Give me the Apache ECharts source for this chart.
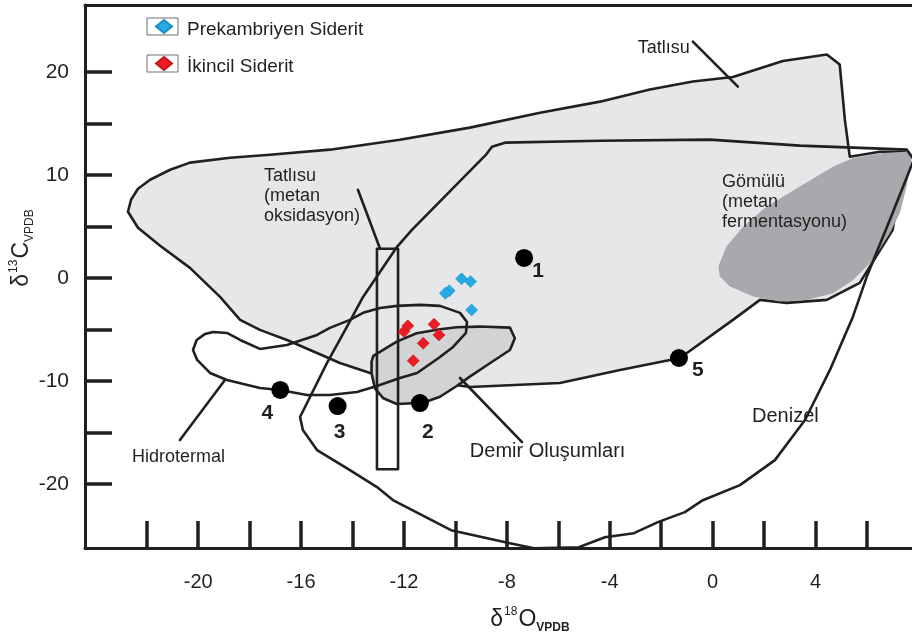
<!DOCTYPE html>
<html>
<head>
<meta charset="utf-8">
<script src="https://cdn.jsdelivr.net/npm/echarts@6/dist/echarts.min.js"></script>
<style>
  html, body { margin: 0; padding: 0; background: #fff; }
  #chart { width: 912px; height: 637px; }
</style>
</head>
<body>
<div id="chart"></div>
<script>
// Axis ticks and labels (δ18O on x, δ13C on y, both ‰ VPDB)
const xTicks = [-22, -20, -18, -16, -14, -12, -10, -8, -6, -4, -2, 0, 2, 4, 6];
const xLabels = [-20, -16, -12, -8, -4, 0, 4];
const yTicks = [-20, -15, -10, -5, 0, 5, 10, 15, 20];
const yLabels = [-20, -10, 0, 10, 20];

// Field outlines as [δ18O, δ13C] vertices
const fieldTatlisu = [
  [-22.73, 6.43], [-22.61, 7.60], [-22.34, 8.67], [-21.87, 9.54], [-21.09, 10.51],
  [-20.32, 11.20], [-18.76, 11.68], [-17.21, 11.97], [-14.88, 12.46], [-12.16, 13.43],
  [-9.44, 14.60], [-6.71, 16.05], [-4.38, 17.12], [-2.44, 18.29], [-0.77, 19.07],
  [0.79, 19.52], [2.73, 21.06], [4.44, 21.69], [4.94, 20.72], [5.02, 18.58],
  [5.14, 15.37], [5.33, 11.78], [6.50, 12.26], [7.47, 12.26], [7.00, 4.68],
  [5.72, -0.47], [4.44, -2.12], [2.88, -2.41], [1.84, -2.12], [0.79, -4.06],
  [-1.27, -7.76], [-3.60, -8.92], [-5.94, -10.19], [-9.44, -10.57], [-13.32, -9.21],
  [-14.49, -8.24], [-15.38, -7.27], [-16.55, -6.01], [-17.60, -5.03], [-18.37, -4.06],
  [-19.15, -1.83], [-20.32, 0.99], [-21.48, 3.13], [-22.34, 4.88]
];
const fieldDenizel = [
  [-8.81, 11.97], [-8.58, 12.75], [-8.07, 13.14], [-4.38, 13.33], [-0.11, 13.43],
  [3.39, 12.85], [7.55, 12.46], [7.82, 11.49], [7.00, 6.34], [5.99, 0.12],
  [5.45, -3.77], [4.56, -8.92], [3.59, -13.78], [2.42, -17.67], [1.06, -20.10],
  [-0.38, -21.56], [-1.08, -22.72], [-2.13, -23.69], [-3.06, -24.76], [-4.19, -25.15],
  [-5.20, -26.12], [-6.95, -26.22], [-7.88, -25.73], [-10.17, -24.47], [-12.43, -21.55],
  [-13.05, -20.29], [-14.10, -18.64], [-15.38, -16.70], [-15.93, -14.75], [-16.04, -13.49],
  [-14.99, -8.24], [-14.22, -4.74], [-13.59, -1.83], [-12.27, 3.03], [-11.69, 4.68]
];
const fieldHidrotermal = [
  [-20.06, -6.01], [-19.73, -5.42], [-19.42, -5.23], [-18.88, -5.33], [-18.37, -6.01],
  [-17.60, -6.88], [-16.55, -6.49], [-15.38, -5.52], [-14.88, -4.84], [-14.10, -4.06],
  [-13.59, -3.38], [-12.93, -2.90], [-12.27, -2.70], [-11.38, -2.60], [-10.60, -2.70],
  [-9.82, -3.38], [-9.55, -4.26], [-9.59, -5.33], [-10.09, -6.69], [-10.60, -7.66],
  [-11.49, -9.21], [-12.16, -9.70], [-13.05, -10.48], [-13.83, -11.06], [-14.88, -11.35],
  [-15.77, -11.35], [-16.82, -10.87], [-17.60, -10.67], [-18.88, -9.89], [-19.54, -9.21],
  [-20.04, -7.95], [-20.20, -6.98]
];
const fieldDemir = [
  [-13.19, -7.56], [-12.28, -6.17], [-11.51, -5.36], [-10.60, -4.97], [-9.95, -4.77],
  [-9.05, -4.71], [-7.88, -4.81], [-7.69, -5.84], [-7.88, -6.98], [-8.66, -8.27],
  [-9.44, -9.57], [-9.95, -10.48], [-10.60, -11.52], [-11.25, -12.10], [-12.28, -12.23],
  [-12.80, -11.67], [-13.13, -10.70], [-13.26, -9.24], [-13.26, -8.11]
];
const fieldGomulu = [
  [0.22, 1.12], [0.54, 3.06], [1.19, 5.01], [2.10, 6.95], [3.39, 8.89],
  [4.69, 10.83], [5.46, 11.65], [6.63, 12.14], [7.67, 12.29], [7.73, 11.49],
  [7.54, 8.89], [7.28, 6.31], [6.89, 4.36], [6.24, 1.77], [5.46, -0.18],
  [4.69, -1.47], [3.65, -2.12], [2.61, -2.28], [1.58, -1.80], [0.67, -0.83], [0.28, 0.14]
];
const fieldMetanOksidasyon = [[-13.05, 2.85], [-12.23, 2.85], [-12.23, -18.55], [-13.05, -18.55]];

// Leader lines from field names to their fields
const leaderLines = [
  [[-0.77, 22.95], [0.98, 18.58]],
  [[-13.79, 8.57], [-12.93, 2.84]],
  [[-18.96, -9.89], [-20.71, -15.72]],
  [[-9.82, -9.70], [-7.41, -15.92]]
];

// Siderite analyses [δ18O, δ13C]
const prekambriyenSiderit = [[-9.76, -0.08], [-9.41, -0.34], [-10.24, -1.24], [-10.39, -1.47], [-9.37, -3.09]];
const ikincilSiderit = [[-11.85, -4.64], [-12.00, -5.20], [-10.83, -4.48], [-10.64, -5.52], [-11.25, -6.33], [-11.64, -8.02]];

// Numbered reference deposits
const refPoints = [[-7.33, 1.95], [-11.38, -12.13], [-14.58, -12.42], [-16.81, -10.86], [-1.31, -7.76]];
const refNames = ['1', '2', '3', '4', '5'];

// Field names and their anchor points
const fieldNames = ['Tatlısu', 'Tatlısu\n(metan\noksidasyon)', 'Gömülü\n(metan\nfermentasyonu)', 'Hidrotermal', 'Demir Oluşumları', 'Denizel'];
const fieldNameAnchors = [[-2.91, 22.37], [-17.44, 7.99], [0.36, 7.41], [-22.57, -17.38], [-9.44, -16.79], [1.53, -13.39]];

const INK = '#231f20';
const FONT = 'Liberation Sans, Arial, Helvetica, sans-serif';
const fieldNameSizes = [18, 18, 18, 18, 20, 20];
const labelOffsets = [[14, 13], [8, 29], [2, 26], [-13, 23], [19, 12]];

function shapeSeries(name, pts, fill, stroke, z, closed) {
  return {
    type: 'custom', name: name, z: z, clip: true, silent: true,
    coordinateSystem: 'cartesian2d',
    data: [[pts[0][0], pts[0][1]]],
    renderItem: function (params, api) {
      return {
        type: closed ? 'polygon' : 'polyline',
        shape: { points: pts.map(function (p) { return api.coord(p); }) },
        style: {
          fill: closed && fill ? fill : 'none',
          stroke: stroke || null,
          lineWidth: stroke ? 2.6 : 0,
          lineJoin: 'round', lineCap: 'round'
        }
      };
    }
  };
}

const chart = echarts.init(document.getElementById('chart'), null, { renderer: 'canvas' });

const series = [
  shapeSeries('Tatlısu', fieldTatlisu, '#e6e7e8', INK, 1, true),
  shapeSeries('Gömülü', fieldGomulu, '#a7a9ac', null, 2, true),
  shapeSeries('Demir Oluşumları', fieldDemir, '#d1d3d4', INK, 3, true),
  shapeSeries('Denizel', fieldDenizel, null, INK, 4, true),
  shapeSeries('Hidrotermal', fieldHidrotermal, null, INK, 5, true),
  shapeSeries('Metan oksidasyon', fieldMetanOksidasyon, null, INK, 6, true)
];
leaderLines.forEach(function (seg, i) {
  series.push(shapeSeries('leader' + i, seg, null, INK, 7, false));
});
series.push({
  type: 'scatter', name: 'field names', z: 8, silent: true,
  symbolSize: 0,
  itemStyle: { opacity: 1 },
  data: fieldNameAnchors.map(function (p, i) {
    return { value: p, name: fieldNames[i], label: { fontSize: fieldNameSizes[i] } };
  }),
  label: {
    show: true, position: [0, 0], align: 'left', verticalAlign: 'middle',
    formatter: function (p) { return p.name; },
    fontFamily: FONT, fontSize: 18, lineHeight: 20, color: INK
  }
});
series.push({
  type: 'scatter', name: 'deposits', z: 9, silent: true,
  symbol: 'circle', symbolSize: 18,
  itemStyle: { color: '#000', opacity: 1 },
  data: refPoints.map(function (p, i) {
    return { value: p, name: refNames[i], label: { offset: labelOffsets[i] } };
  }),
  label: {
    show: true, position: 'inside', formatter: function (p) { return p.name; },
    fontFamily: FONT, fontSize: 21, fontWeight: 'bold', color: INK
  }
});
series.push({
  type: 'scatter', name: 'Prekambriyen Siderit', z: 10,
  symbol: 'diamond', symbolSize: 12,
  itemStyle: { color: '#27aae1', borderColor: '#1b8fc6', borderWidth: 0.6, opacity: 1 },
  data: prekambriyenSiderit
});
series.push({
  type: 'scatter', name: 'İkincil Siderit', z: 10,
  symbol: 'diamond', symbolSize: 12,
  itemStyle: { color: '#ed1c24', borderColor: '#c4161c', borderWidth: 0.6, opacity: 1 },
  data: ikincilSiderit
});

const axisBase = {
  type: 'value',
  axisLine: { show: true, onZero: false, lineStyle: { color: INK, width: 3 } },
  splitLine: { show: false }
};

const titleRich = function (bold) {
  return {
    d: { fontFamily: FONT, fontSize: 23, fill: INK, lineHeight: 28, verticalAlign: 'middle' },
    sup: { fontFamily: FONT, fontSize: 12, fill: INK, lineHeight: 28, verticalAlign: 'top', padding: [0, 1, 0, 1] },
    sub: { fontFamily: FONT, fontSize: 12, fontWeight: bold ? 'bold' : 'normal', fill: INK, lineHeight: 28, verticalAlign: 'bottom' }
  };
};

chart.setOption({
  animation: false,
  backgroundColor: '#fff',
  textStyle: { fontFamily: FONT, color: INK },
  grid: { left: 85, right: 0, top: 5, bottom: 89 },
  legend: {
    data: ['Prekambriyen Siderit', 'İkincil Siderit'],
    orient: 'vertical', left: 155, top: 14, padding: 0,
    itemWidth: 16, itemHeight: 13, itemGap: 12,
    icon: 'diamond',
    selectedMode: false,
    formatter: function (name) { return '{t|' + name + '}'; },
    textStyle: {
      fontFamily: FONT, fontSize: 19, color: INK,
      rich: { t: { fontFamily: FONT, fontSize: 19, color: INK, lineHeight: 19, padding: [6, 0, 0, 10] } }
    }
  },
  xAxis: [
    Object.assign({}, axisBase, {
      min: -24.4, max: 7.75, position: 'bottom',
      axisTick: { show: true, inside: true, length: 27, customValues: xTicks, lineStyle: { color: INK, width: 3.5 } },
      axisLabel: { show: true, customValues: xLabels, margin: 24, fontSize: 20, color: INK, fontFamily: FONT }
    }),
    Object.assign({}, axisBase, {
      min: -24.4, max: 7.75, position: 'top',
      axisTick: { show: false }, axisLabel: { show: false }
    })
  ],
  yAxis: [
    Object.assign({}, axisBase, {
      min: -26.2, max: 26.5, position: 'left',
      axisTick: { show: true, inside: true, length: 27, customValues: yTicks, lineStyle: { color: INK, width: 3.5 } },
      axisLabel: { show: true, customValues: yLabels, margin: 16, fontSize: 21, color: INK, fontFamily: FONT }
    })
  ],
  graphic: [
    { type: 'rect', z: 100, shape: { x: 147, y: 18, width: 31, height: 17 }, style: { fill: 'none', stroke: '#6d6e71', lineWidth: 1 } },
    { type: 'rect', z: 100, shape: { x: 147, y: 55, width: 31, height: 17 }, style: { fill: 'none', stroke: '#6d6e71', lineWidth: 1 } },
    {
      type: 'text', z: 100, x: 530, y: 620,
      style: { text: '{d|δ}{sup|18}{d|O}{sub|VPDB}', align: 'center', verticalAlign: 'middle', rich: titleRich(true) }
    },
    {
      type: 'text', z: 100, x: 22, y: 248, rotation: Math.PI / 2,
      style: { text: '{d|δ}{sup|13}{d|C}{sub|VPDB}', align: 'center', verticalAlign: 'middle', rich: titleRich(false) }
    }
  ],
  series: series
});
</script>
</body>
</html>
